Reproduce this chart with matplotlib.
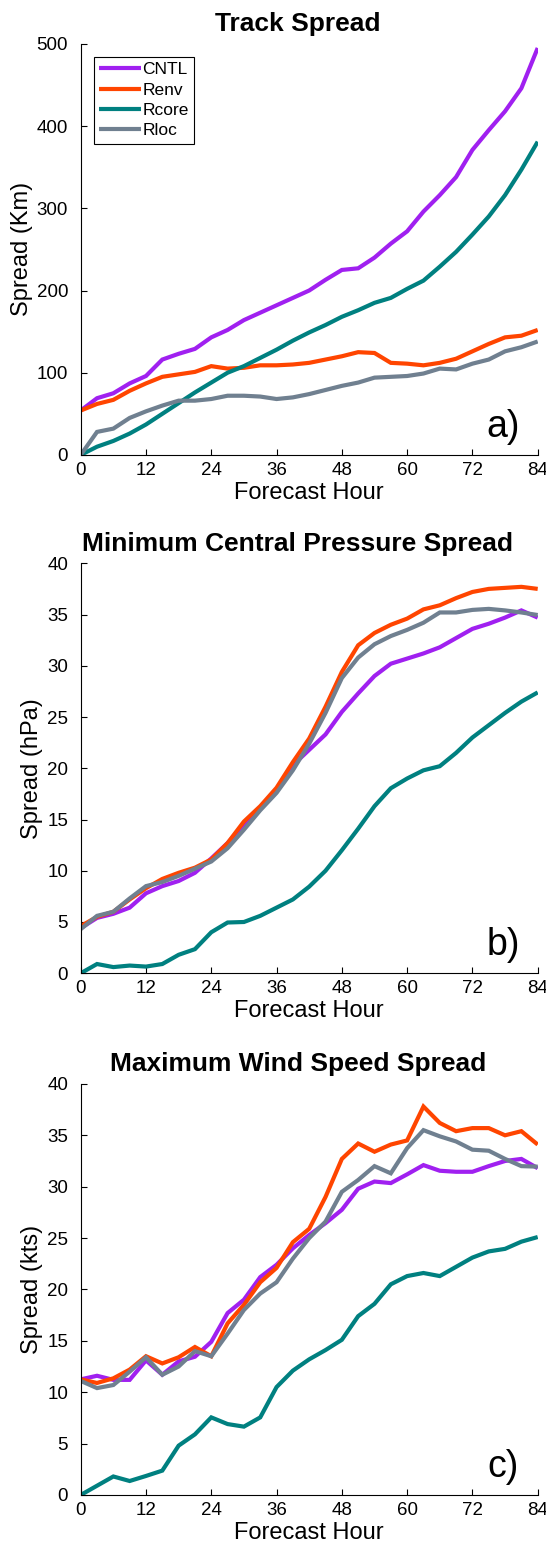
#!/usr/bin/env python3
"""Track / minimum pressure / maximum wind spread for four ensemble experiments."""

import matplotlib
matplotlib.use("Agg")
import matplotlib.pyplot as plt

HOURS = list(range(0, 85, 3))
NAMES = ["CNTL", "Renv", "Rcore", "Rloc"]
COLOURS = ["#A020F0", "#FF4500", "#008080", "#708090"]

# a) track spread (km)
TRACK_CNTL = [54, 69, 75, 87, 96, 116, 123, 129, 143, 152, 164, 173, 182, 191, 200,
              213, 225, 227, 240, 257, 272, 296, 316, 338, 371, 395, 418, 446, 495]
TRACK_RENV = [54, 62, 67, 78, 87, 95, 98, 101, 108, 105, 106, 109, 109, 110, 112,
              116, 120, 125, 124, 112, 111, 109, 112, 117, 126, 135, 143, 145, 152]
TRACK_RCORE = [0, 10, 17, 26, 37, 50, 63, 76, 88, 100, 108, 118, 128, 139, 149,
               158, 168, 176, 185, 191, 202, 212, 229, 247, 268, 290, 316, 347, 381]
TRACK_RLOC = [0, 28, 32, 45, 53, 60, 66, 66, 68, 72, 72, 71, 68, 70, 74,
              79, 84, 88, 94, 95, 96, 99, 105, 104, 111, 116, 126, 131, 138]

# b) minimum central pressure spread (hPa)
PRES_CNTL = [4.4, 5.4, 5.8, 6.4, 7.8, 8.5, 9.0, 9.8, 11.2, 12.7, 14.5, 16.1, 17.9, 20.3, 21.8,
             23.3, 25.5, 27.3, 29.0, 30.2, 30.7, 31.2, 31.8, 32.7, 33.6, 34.1, 34.7, 35.4, 34.7]
PRES_RENV = [4.6, 5.5, 6.0, 7.2, 8.3, 9.2, 9.8, 10.3, 11.1, 12.7, 14.8, 16.3, 18.1, 20.6, 22.9,
             26.0, 29.4, 32.0, 33.2, 34.0, 34.6, 35.5, 35.9, 36.6, 37.2, 37.5, 37.6, 37.7, 37.5]
PRES_RCORE = [0, 0.9, 0.6, 0.75, 0.65, 0.9, 1.8, 2.35, 4.0, 4.95, 5.0, 5.6, 6.4, 7.2, 8.45,
              10.0, 12.0, 14.1, 16.3, 18.05, 19.0, 19.8, 20.2, 21.5, 23.0, 24.2, 25.4, 26.5, 27.4]
PRES_RLOC = [4.3, 5.6, 6.0, 7.3, 8.5, 8.9, 9.5, 10.2, 10.9, 12.2, 14.0, 15.9, 17.6, 19.8, 22.4,
             25.4, 28.8, 30.8, 32.1, 32.9, 33.5, 34.2, 35.2, 35.2, 35.45, 35.55, 35.4, 35.2, 34.95]

# c) maximum wind speed spread (kts)
WIND_CNTL = [11.25, 11.6, 11.2, 11.2, 13.1, 11.7, 13.0, 13.45, 14.9, 17.7, 19.0, 21.2, 22.4, 24.0, 25.3,
             26.45, 27.75, 29.8, 30.5, 30.35, 31.2, 32.1, 31.55, 31.45, 31.45, 32.0, 32.5, 32.7, 31.8]
WIND_RENV = [11.25, 10.9, 11.35, 12.2, 13.5, 12.8, 13.4, 14.4, 13.5, 16.7, 18.5, 20.7, 22.1, 24.6, 25.9,
             29.0, 32.7, 34.2, 33.4, 34.1, 34.5, 37.8, 36.2, 35.4, 35.7, 35.7, 35.0, 35.4, 34.1]
WIND_RCORE = [0, 0.9, 1.8, 1.36, 1.85, 2.37, 4.8, 5.9, 7.55, 6.9, 6.65, 7.55, 10.5, 12.1, 13.2,
              14.1, 15.1, 17.4, 18.6, 20.5, 21.3, 21.6, 21.3, 22.2, 23.1, 23.7, 23.95, 24.65, 25.1]
WIND_RLOC = [11.1, 10.4, 10.7, 12.0, 13.4, 11.7, 12.5, 14.0, 13.5, 15.7, 18.0, 19.6, 20.7, 23.0, 25.0,
             26.6, 29.5, 30.65, 32.0, 31.3, 33.75, 35.5, 34.9, 34.4, 33.6, 33.5, 32.7, 32.0, 31.95]

PANELS = [
    ("Track Spread", "Spread (Km)", "a)", [TRACK_CNTL, TRACK_RENV, TRACK_RCORE, TRACK_RLOC],
     list(range(0, 501, 100))),
    ("Minimum Central Pressure Spread", "Spread (hPa)", "b)",
     [PRES_CNTL, PRES_RENV, PRES_RCORE, PRES_RLOC], list(range(0, 41, 5))),
    ("Maximum Wind Speed Spread", "Spread (kts)", "c)",
     [WIND_CNTL, WIND_RENV, WIND_RCORE, WIND_RLOC], list(range(0, 41, 5))),
]

plt.rcParams.update({
    "font.family": ["Liberation Sans", "DejaVu Sans"],
    "font.size": 13,
})

fig = plt.figure(figsize=(5.46, 15.5), dpi=100)
bottoms = [0.7065, 0.3721, 0.0355]
heights = [0.2652, 0.2645, 0.2652]

for (title, ylabel, tag, series, yticks), b, h in zip(PANELS, bottoms, heights):
    ax = fig.add_axes([0.1478, b, 0.837, h])
    for name, colour, ys in zip(NAMES, COLOURS, series):
        ax.plot(HOURS, ys, color=colour, linewidth=3, label=name,
                solid_joinstyle="miter", solid_capstyle="butt")
    ax.set_xlim(0, 84)
    ax.set_ylim(yticks[0], yticks[-1])
    ax.set_xticks(range(0, 85, 12))
    ax.set_yticks(yticks)
    ax.spines["top"].set_visible(False)
    ax.spines["right"].set_visible(False)
    ax.tick_params(direction="in", length=4, width=0.8, labelsize=13.5)
    ax.tick_params(axis="x", pad=5)
    ax.tick_params(axis="y", pad=9)
    # titles sit a little left of the axes centre in the original
    ax.set_title(title, fontsize=19, fontweight="bold", pad=9, x=0.475)
    ax.set_xlabel("Forecast Hour", fontsize=17, labelpad=2)
    ax.set_ylabel(ylabel, fontsize=17, labelpad=3)
    ax.text(0.925, 0.068, tag, transform=ax.transAxes, fontsize=27,
            ha="center", va="center")
    if tag == "a)":
        leg = ax.legend(loc="upper left", bbox_to_anchor=(0.029, 0.968), fontsize=12.5,
                        handlelength=2.4, handletextpad=0.1, borderpad=0.3,
                        labelspacing=0.3, fancybox=False, framealpha=1,
                        edgecolor="black", borderaxespad=0)
        leg.get_frame().set_linewidth(0.8)

fig.savefig("out.png", dpi=100)
